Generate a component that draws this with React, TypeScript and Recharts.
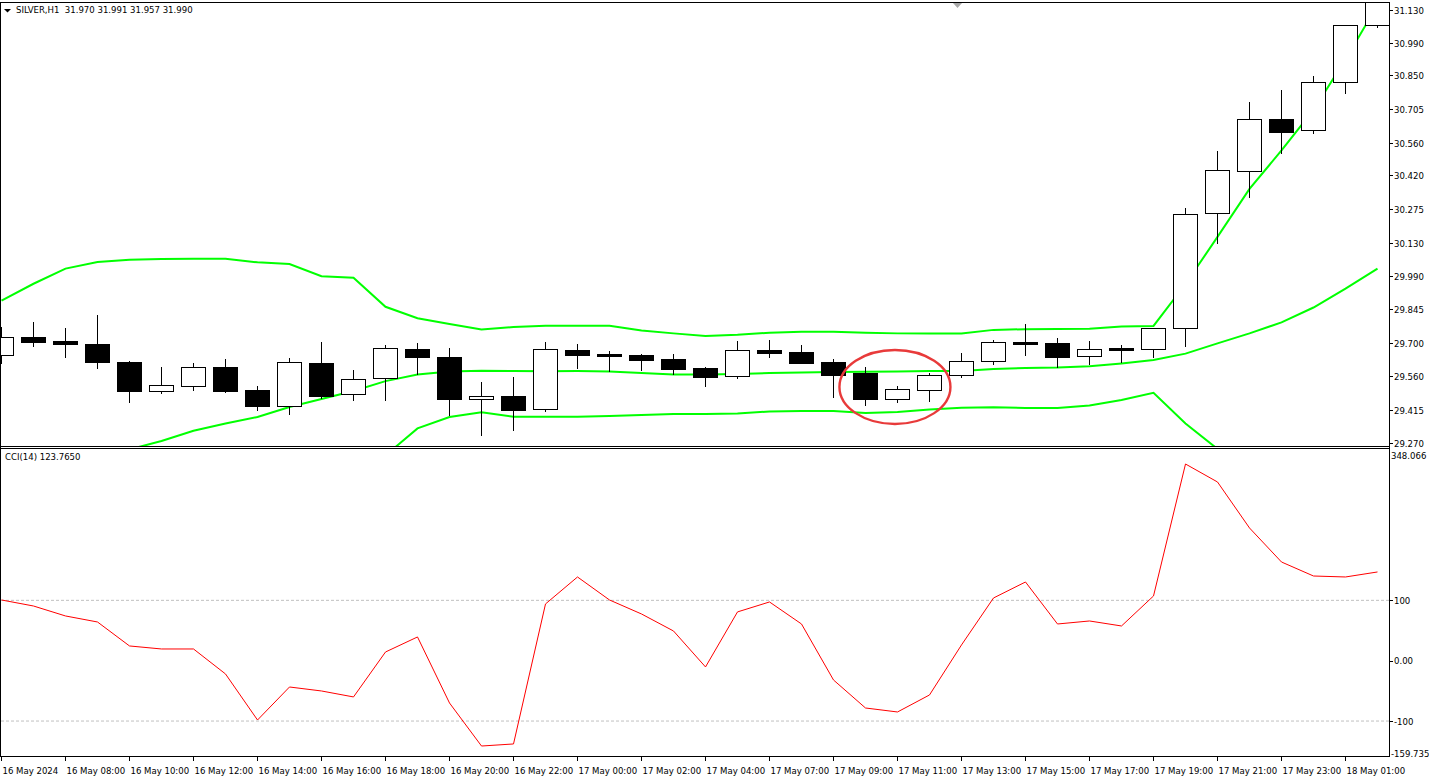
import React from 'react';
import { ComposedChart, LineChart, Line, Bar, XAxis, YAxis, ReferenceLine, ReferenceDot } from 'recharts';

const candleIndex = [0,1,2,3,4,5,6,7,8,9,10,11,12,13,14,15,16,17,18,19,20,21,22,23,24,25,26,27,28,29,30,31,32,33,34,35,36,37,38,39,40,41,42,43];
const opens = [29.649,29.726,29.709,29.696,29.619,29.496,29.517,29.598,29.499,29.432,29.615,29.480,29.549,29.674,29.639,29.462,29.473,29.416,29.671,29.655,29.649,29.632,29.593,29.560,29.671,29.662,29.619,29.572,29.462,29.498,29.562,29.625,29.705,29.701,29.644,29.678,29.676,29.765,30.257,30.438,30.661,30.614,30.820,31.064];
const highs = [29.769,29.791,29.765,29.821,29.623,29.598,29.615,29.632,29.516,29.636,29.705,29.585,29.691,29.701,29.679,29.535,29.555,29.705,29.696,29.666,29.655,29.653,29.598,29.709,29.714,29.692,29.632,29.598,29.516,29.573,29.658,29.714,29.782,29.722,29.709,29.692,29.765,30.279,30.525,30.735,30.787,30.847,31.066,31.320];
const lows = [29.615,29.688,29.641,29.595,29.449,29.487,29.500,29.492,29.414,29.397,29.463,29.457,29.457,29.566,29.392,29.306,29.328,29.410,29.593,29.582,29.585,29.568,29.516,29.550,29.641,29.615,29.470,29.436,29.449,29.453,29.555,29.612,29.649,29.598,29.611,29.618,29.639,29.688,30.131,30.329,30.515,30.603,30.775,31.056];
const closes = [29.726,29.705,29.698,29.620,29.496,29.519,29.596,29.496,29.432,29.619,29.474,29.545,29.678,29.639,29.462,29.472,29.414,29.674,29.650,29.646,29.628,29.589,29.556,29.669,29.659,29.616,29.565,29.462,29.502,29.562,29.622,29.704,29.698,29.642,29.674,29.671,29.764,30.253,30.442,30.661,30.605,30.820,31.064,31.300];

const bbUpper = [29.883,29.955,30.020,30.048,30.058,30.061,30.062,30.062,30.047,30.040,29.987,29.981,29.856,29.807,29.782,29.759,29.769,29.775,29.775,29.775,29.754,29.742,29.731,29.736,29.745,29.749,29.749,29.745,29.742,29.742,29.742,29.757,29.760,29.761,29.762,29.771,29.774,29.954,30.156,30.362,30.527,30.701,30.918,31.151];
const bbMiddle = [29.113,29.143,29.173,29.207,29.244,29.280,29.324,29.355,29.383,29.426,29.460,29.495,29.537,29.565,29.578,29.582,29.580,29.579,29.580,29.578,29.572,29.566,29.565,29.568,29.572,29.574,29.576,29.577,29.578,29.580,29.580,29.589,29.593,29.595,29.601,29.613,29.628,29.655,29.699,29.742,29.789,29.853,29.934,30.020];
const bbLower = [28.343,28.331,28.326,28.366,28.430,28.499,28.586,28.648,28.719,28.812,28.933,29.009,29.218,29.334,29.383,29.403,29.384,29.384,29.384,29.387,29.392,29.396,29.396,29.398,29.407,29.409,29.409,29.400,29.405,29.415,29.423,29.425,29.422,29.422,29.432,29.456,29.487,29.355,29.246,29.122,29.051,29.005,28.950,28.889];

const cci = [100.6,90.6,74.1,64.1,24.4,19.4,19.4,-22.0,-98.3,-43.6,-50.2,-60.1,14.4,39.3,-70.1,-141.4,-138.0,94.0,138.7,100.6,77.4,49.2,-10.4,80.8,97.3,60.8,-32.0,-78.4,-85.0,-56.8,26.1,103.9,130.4,60.8,65.8,57.5,107.2,325.9,296.1,219.9,163.5,140.3,138.7,147.0];

const xTickIndex = [0,2,4,6,8,10,12,14,16,18,20,22,24,26,28,30,32,34,36,38,40,42];
const xTickLabels = ['16 May 2024','16 May 08:00','16 May 10:00','16 May 12:00','16 May 14:00','16 May 16:00','16 May 18:00','16 May 20:00','16 May 22:00','17 May 00:00','17 May 02:00','17 May 04:00','17 May 07:00','17 May 09:00','17 May 11:00','17 May 13:00','17 May 15:00','17 May 17:00','17 May 19:00','17 May 21:00','17 May 23:00','18 May 01:00'];

const priceTicks = [29.270,29.415,29.560,29.700,29.845,29.990,30.130,30.275,30.420,30.560,30.705,30.850,30.990,31.130];
const priceTickLabels = ['29.270','29.415','29.560','29.700','29.845','29.990','30.130','30.275','30.420','30.560','30.705','30.850','30.990','31.130'];

const cciTicks = [349.1,100,0,-100,-159.6];
const cciTickLabels = ['348.066','100','0.00','-100','-159.735'];

const X_DOMAIN: [number, number] = [-0.046875, 43.359375];
const PRICE_DOMAIN: [number, number] = [29.2586, 31.1643];
const CCI_DOMAIN: [number, number] = [-159.6, 349.1];

const FONT = '"DejaVu Sans Condensed", "Liberation Sans Narrow", "Liberation Sans", Arial, sans-serif';
const FS = 9.5;

const data = candleIndex.map((i) => ({
  i,
  range: [lows[i], highs[i]],
  open: opens[i],
  high: highs[i],
  low: lows[i],
  close: closes[i],
  bbUpper: bbUpper[i],
  bbMiddle: bbMiddle[i],
  bbLower: bbLower[i],
  cci: cci[i],
}));

const CandleShape = (props: any) => {
  const { x, y, width, height, payload } = props;
  if (x == null || y == null || !payload) return null;
  const o = payload.open, c = payload.close, h = payload.high, l = payload.low;
  const k = h === l ? 0 : height / (h - l);
  const py = (v: number) => y + (h - v) * k;
  const cx = Math.floor(x + width / 2) + 0.5;
  const top = Math.round(py(Math.max(o, c)));
  const bot = Math.round(py(Math.min(o, c)));
  const wt = Math.round(py(h));
  const wb = Math.round(py(l));
  const up = c >= o;
  return (
    <g>
      <line x1={cx} x2={cx} y1={wt} y2={wb + 1} stroke="#000" strokeWidth={1} shapeRendering="crispEdges" />
      <rect x={cx - 12} y={top + 0.5} width={24} height={Math.max(bot - top, 1)} fill={up ? '#fff' : '#000'} stroke="#000" strokeWidth={1} shapeRendering="crispEdges" />
    </g>
  );
};

const PriceTick = (props: any) => {
  const { x, y, payload } = props;
  const idx = priceTicks.indexOf(payload.value);
  const yy = Math.round(y) + 0.5;
  return (
    <g>
      <line x1={x + 1} x2={x + 4} y1={yy} y2={yy} stroke="#000" shapeRendering="crispEdges" />
      <text x={x + 5} y={y + 0.5} dominantBaseline="central" fontSize={FS} fontFamily={FONT} fill="#000">{priceTickLabels[idx]}</text>
    </g>
  );
};

const CciTick = (props: any) => {
  const { x, y, payload } = props;
  const idx = cciTicks.indexOf(payload.value);
  const isEdge = idx === 0 || idx === cciTicks.length - 1;
  const dy = idx === 0 ? 5.5 : idx === cciTicks.length - 1 ? -3.5 : 0;
  const yy = Math.round(y) + 0.5;
  return (
    <g>
      {!isEdge && <line x1={x + 1} x2={x + 4} y1={yy} y2={yy} stroke="#000" shapeRendering="crispEdges" />}
      <text x={x + (isEdge ? 2 : 5)} y={y + dy} dominantBaseline="central" fontSize={FS} fontFamily={FONT} fill="#000">{cciTickLabels[idx]}</text>
    </g>
  );
};

const TimeTick = (props: any) => {
  const { x, y, payload } = props;
  const idx = xTickIndex.indexOf(payload.value);
  const px = Math.floor(x) + 0.5;
  return (
    <g>
      <line x1={px} x2={px} y1={y} y2={y + 4} stroke="#000" shapeRendering="crispEdges" />
      <text x={px + 1} y={y + 13} dominantBaseline="central" textAnchor="start" fontSize={FS} fontFamily={FONT} fill="#000">{xTickLabels[idx]}</text>
    </g>
  );
};

const EllipseMark = (props: any) => {
  const { cx, cy } = props;
  if (cx == null) return null;
  return <ellipse cx={cx} cy={cy} rx={55.5} ry={37} fill="none" stroke="#e83a3a" strokeWidth={2.4} />;
};

const line = (l: number, t: number, w: number, h: number, color = '#000') => (
  <div style={{ position: 'absolute', left: l, top: t, width: w, height: h, background: color }} />
);

export default function App() {
  return (
    <div style={{ position: 'absolute', left: 0, top: 0, width: 1429, height: 782, background: '#fff', overflow: 'hidden', fontFamily: FONT }}>
      <div style={{ position: 'absolute', left: 0, top: 0 }}>
        <ComposedChart width={1429} height={462} data={data} margin={{ top: 2, right: 0, bottom: 16, left: 0 }}>
          <XAxis dataKey="i" type="number" domain={X_DOMAIN} ticks={candleIndex} allowDataOverflow hide />
          <YAxis orientation="right" width={40} domain={PRICE_DOMAIN} allowDataOverflow ticks={priceTicks} interval={0}
            axisLine={false} tickLine={false} tickSize={0} tickMargin={0} tick={(p: any) => <PriceTick {...p} />} />
          <Line dataKey="bbUpper" type="linear" stroke="#00ff00" strokeWidth={2} dot={false} activeDot={false} isAnimationActive={false} />
          <Line dataKey="bbMiddle" type="linear" stroke="#00ff00" strokeWidth={2} dot={false} activeDot={false} isAnimationActive={false} />
          <Line dataKey="bbLower" type="linear" stroke="#00ff00" strokeWidth={2} dot={false} activeDot={false} isAnimationActive={false} />
          <Bar dataKey="range" barSize={24} shape={(p: any) => <CandleShape {...p} />} isAnimationActive={false} zIndex={450} />
          <ReferenceDot x={27.92} y={29.512} r={1} shape={(p: any) => <EllipseMark {...p} />} />
        </ComposedChart>
      </div>
      <div style={{ position: 'absolute', left: 0, top: 449 }}>
        <LineChart width={1429} height={333} data={data} margin={{ top: 1, right: 0, bottom: 0, left: 0 }}>
          <XAxis dataKey="i" type="number" domain={X_DOMAIN} allowDataOverflow ticks={xTickIndex} interval={0} height={25}
            axisLine={false} tickLine={false} tickSize={0} tickMargin={0} tick={(p: any) => <TimeTick {...p} />} />
          <YAxis orientation="right" width={40} domain={CCI_DOMAIN} allowDataOverflow ticks={cciTicks} interval={0}
            axisLine={false} tickLine={false} tickSize={0} tickMargin={0} tick={(p: any) => <CciTick {...p} />} />
          <ReferenceLine y={100} stroke="#c0c0c0" strokeDasharray="3 2" />
          <ReferenceLine y={-100} stroke="#c0c0c0" strokeDasharray="3 2" />
          <Line dataKey="cci" type="linear" stroke="#ff0000" strokeWidth={1} dot={false} activeDot={false} isAnimationActive={false} />
        </LineChart>
      </div>

      {line(0, 2, 1390, 1)}
      {line(0, 2, 1, 755)}
      {line(1389, 2, 1, 755)}
      {line(0, 446, 1390, 1)}
      {line(0, 448, 1390, 1)}
      {line(0, 756, 1390, 1)}

      <svg style={{ position: 'absolute', left: 0, top: 0 }} width={1429} height={20}>
        <polygon points="4,9 11,9 7.5,12.5" fill="#000" />
        <polygon points="953,3 962,3 957.5,8" fill="#a8a8a8" />
      </svg>
      <div style={{ position: 'absolute', left: 16, top: 4, fontSize: FS, lineHeight: '12px', color: '#000', whiteSpace: 'pre' }}>
        SILVER,H1  31.970 31.991 31.957 31.990
      </div>
      <div style={{ position: 'absolute', left: 5, top: 451, fontSize: FS, lineHeight: '12px', color: '#000', whiteSpace: 'pre' }}>
        CCI(14) 123.7650
      </div>
    </div>
  );
}
